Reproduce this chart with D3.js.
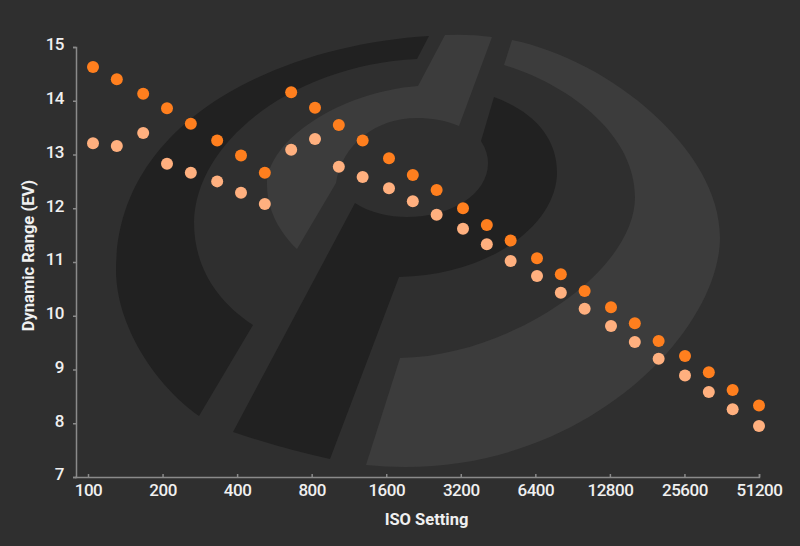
<!DOCTYPE html>
<html><head><meta charset="utf-8">
<script src="https://d3js.org/d3.v7.min.js"></script>
<style>html,body{margin:0;padding:0;background:#2f2f2f}svg{display:block}</style>
</head><body><svg id="c" width="800" height="546"></svg>
<script>
const isoValues=[100,125,160,200,250,320,400,500,640,800,1000,1250,1600,2000,2500,3200,4000,5000,6400,8000,10000,12800,16000,20000,25600,32000,40000,51200];
const seriesDark=[14.63,14.40,14.13,13.86,13.57,13.26,12.98,12.66,14.16,13.87,13.55,13.26,12.93,12.62,12.34,12.00,11.69,11.40,11.07,10.77,10.46,10.16,9.86,9.53,9.25,8.95,8.62,8.33];
const seriesLight=[13.21,13.16,13.40,12.83,12.66,12.50,12.29,12.08,13.09,13.29,12.77,12.58,12.37,12.13,11.88,11.62,11.33,11.02,10.74,10.43,10.13,9.81,9.51,9.20,8.89,8.58,8.26,7.95];
const xTickLabels=[100,200,400,800,1600,3200,6400,12800,25600,51200];
const yTickLabels=[7,8,9,10,11,12,13,14,15];
const font='"Roboto","Noto Sans",sans-serif';
const svg=d3.select('#c');
svg.append('rect').attr('width',800).attr('height',546).attr('fill','#2f2f2f');

// Background watermark (decorative, not data)
const logoDark='#212121',logoLight='#3c3c3c';
const logoShapes=[
 [logoDark,'M429,36C280,45 116,120 116,270C116,325 155,385 199,416L253,325C215,300 194,265 194,222C196,140 295,65 417,59Z'],
 [logoDark,'M494,97C530,110 557,135 557,172C557,225 490,275 399,277L330,459Q283,449 233,432L355,203C370,213 390,217 407,217C450,217 488,195 488,163Q488,152 481,141Z'],
 [logoLight,'M445,35Q470,34 492,37L459,126C445,120 430,118 417,118C375,118 342,145 336,183L297,249C280,233 267,210 267,185C267,140 340,92 418,86Z'],
 [logoLight,'M512,40C610,60 720,150 720,237C720,330 590,467 405,467Q385,467 366,465L400,358C510,356 635,272 635,197C635,135 570,85 504,65Z']
];
const logo=svg.append('g');
logoShapes.forEach(([f,d])=>logo.append('path').attr('d',d).attr('fill',f));

const y=d3.scaleLinear().domain([7,15]).range([477,47]);
const xAxisScale=d3.scaleLog().base(2).domain([100,51200]).range([88,759]);
const xPoint=d3.scaleLog().base(2).domain([100,51200]).range([93,759]);

const xg=svg.append('g').attr('transform','translate(0,477)').call(d3.axisBottom(xAxisScale).tickValues(xTickLabels).tickFormat(d3.format('d')).tickSize(-3).tickPadding(6));
const yg=svg.append('g').attr('transform','translate(76,0)').call(d3.axisLeft(y).tickValues(yTickLabels).tickFormat(d3.format('d')).tickSize(3).tickPadding(9));
xg.select('.domain').attr('d','M75,0.5H759.5V-3');
[xg,yg].forEach(g=>{g.selectAll('.domain,.tick line').attr('stroke','#8a8a8a').attr('stroke-width',1.5);
 g.selectAll('text').attr('fill','#f0f0f0').attr('font-family',font).attr('font-weight',500).attr('font-size',17).attr('letter-spacing',-0.5);});
xg.selectAll('.tick text').attr('dy','0.75em');
yg.selectAll('.tick text').attr('dy','0.17em');
const titleStyle=t=>t.attr('text-anchor','middle').attr('fill','#f0f0f0').attr('font-family',font).attr('font-weight',700).attr('font-size',16.5);
svg.append('text').attr('x',426.5).attr('y',525).call(titleStyle).text('ISO Setting');
svg.append('text').attr('transform','translate(34,255.5) rotate(-90)').call(titleStyle).text('Dynamic Range (EV)');

[[seriesDark,'#ff7f1e'],[seriesLight,'#ffb07f']].forEach(([vals,c])=>{
 svg.append('g').selectAll('circle').data(vals).join('circle')
  .attr('cx',(d,i)=>xPoint(isoValues[i])).attr('cy',d=>y(d)).attr('r',6).attr('fill',c);
});
</script></body></html>
